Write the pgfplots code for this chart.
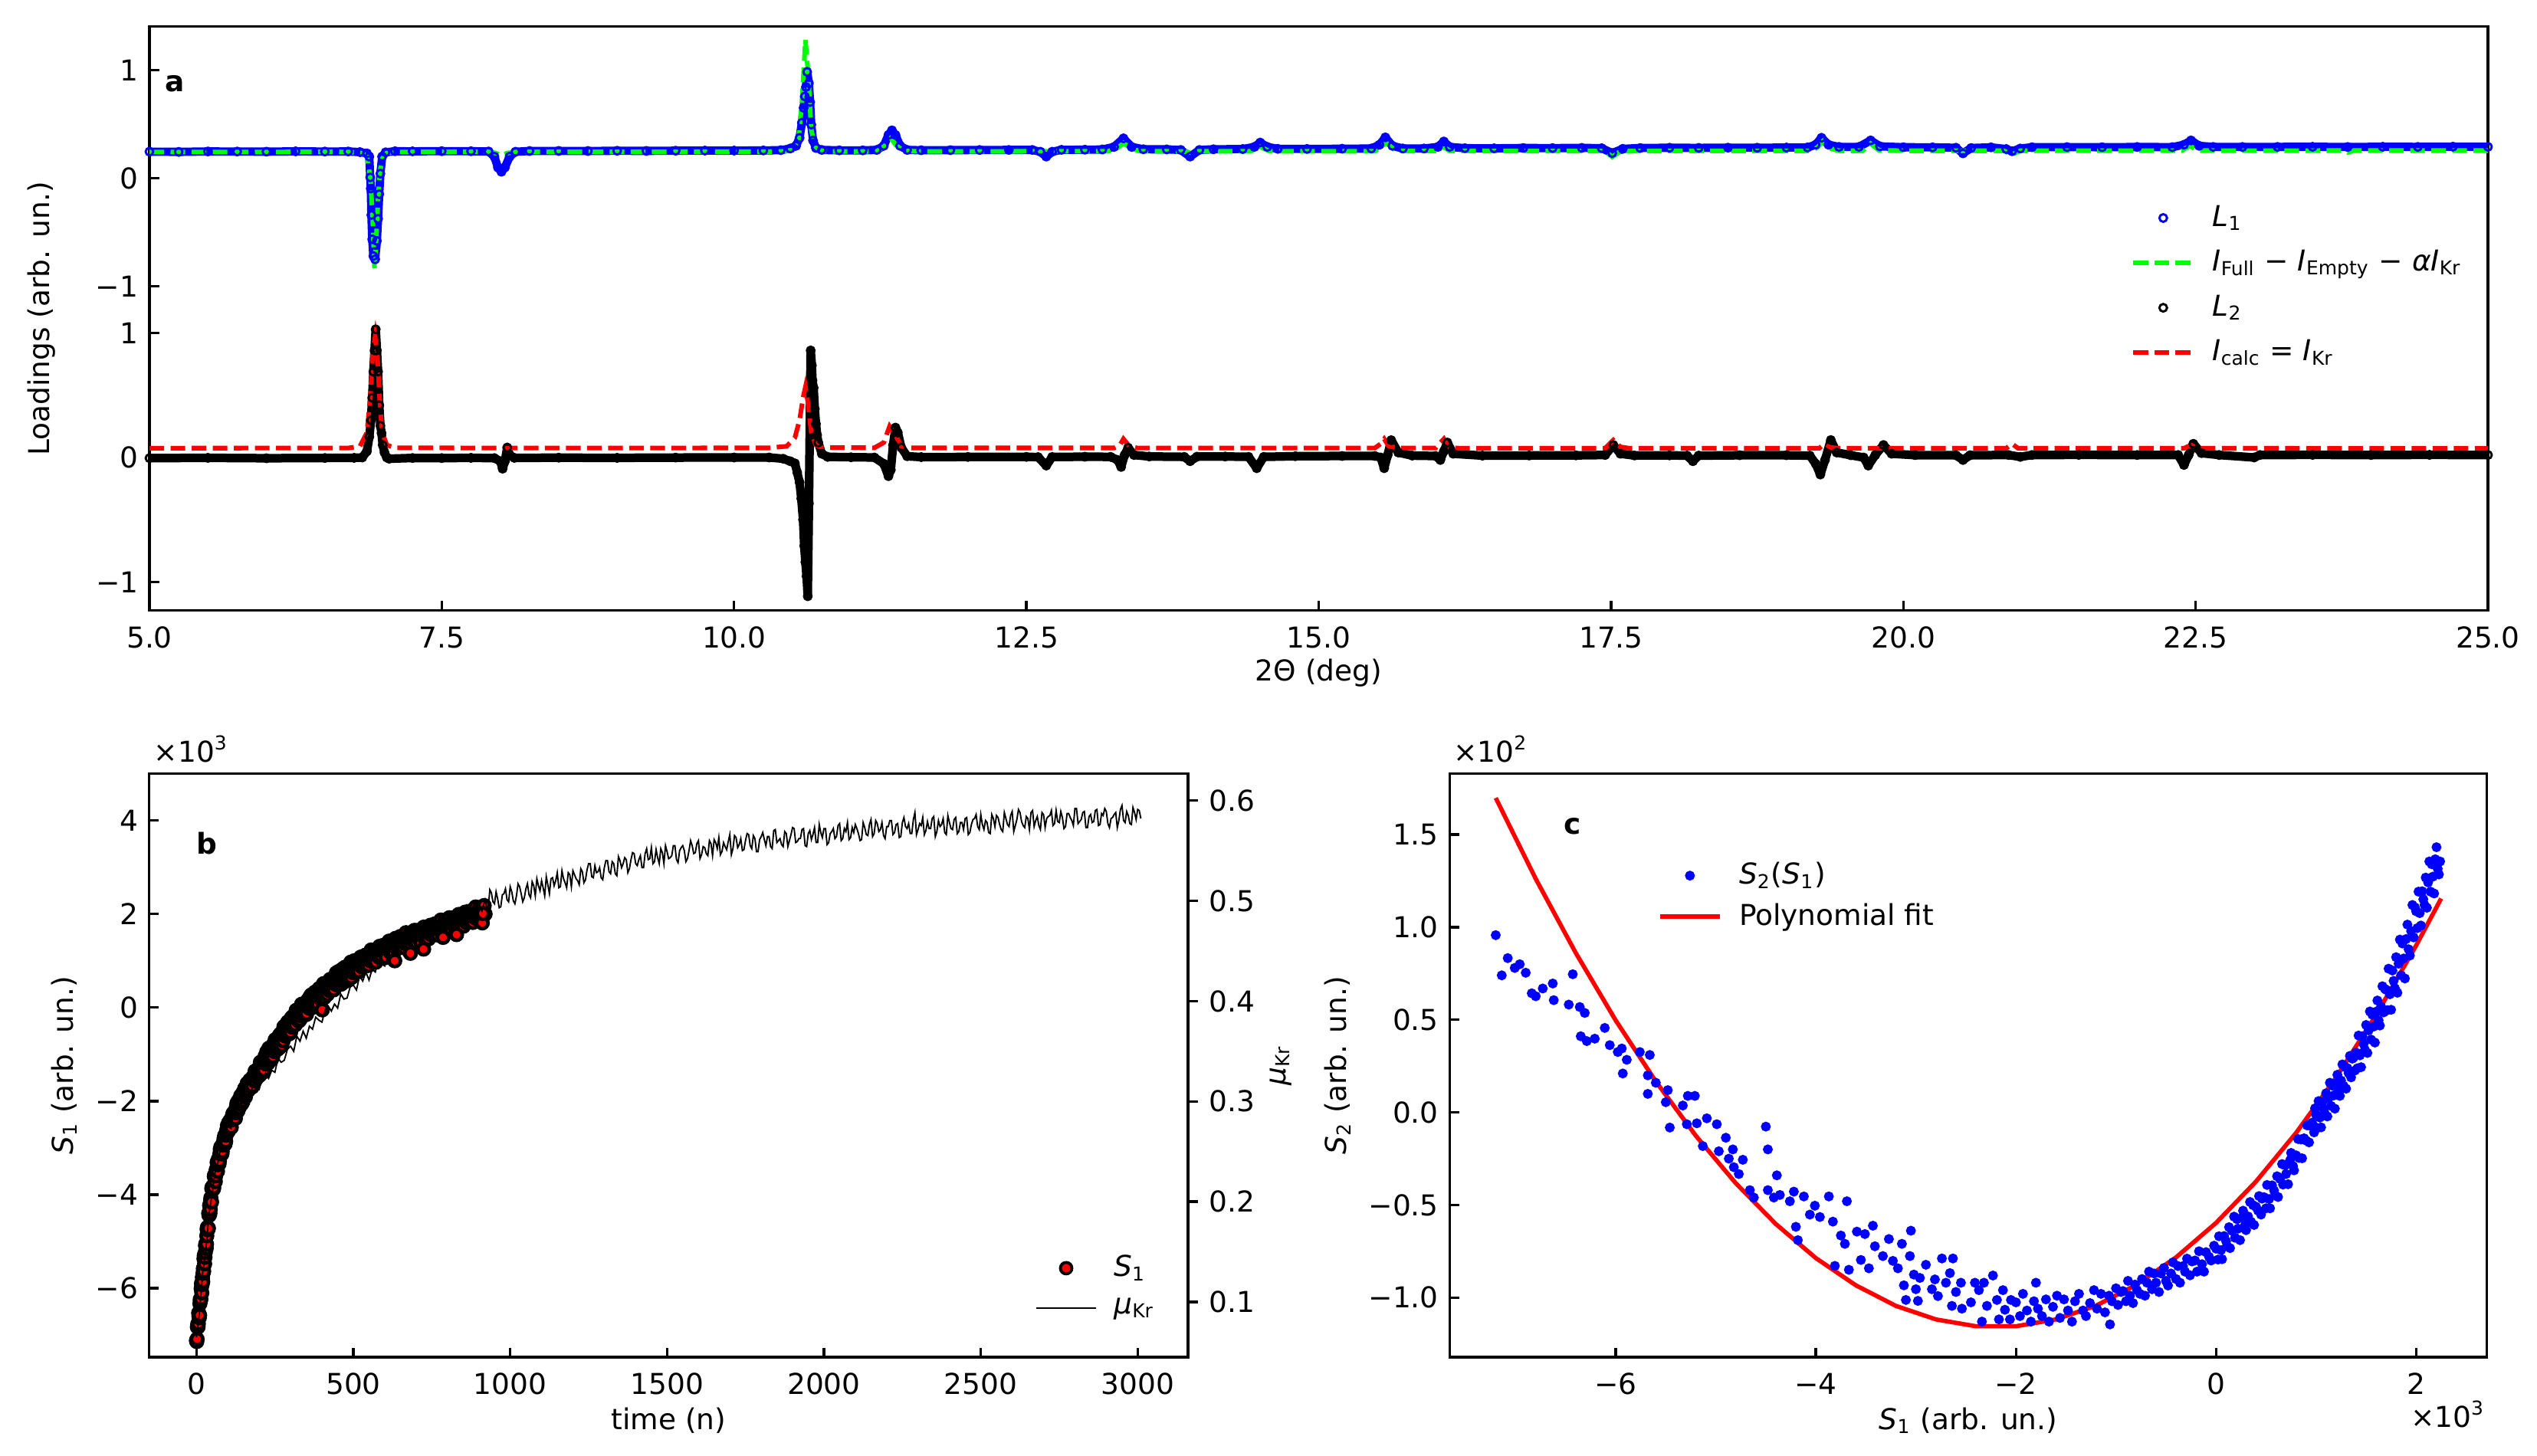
\documentclass[border=0pt]{standalone}
\usepackage{fontspec}
\setmainfont{DejaVu Sans}
\usepackage{pgfplots}
\usepackage{pgfplotstable}
\pgfplotsset{compat=1.18}

\pgfplotstableread{
x y
5.00 0.246
5.25 0.244
5.50 0.248
5.75 0.247
6.00 0.246
6.25 0.249
6.50 0.247
6.70 0.248
6.80 0.242
6.86 0.230
6.88 0.200
6.888 0.008
6.893 -0.096
6.898 -0.340
6.905 -0.565
6.915 -0.720
6.930 -0.750
6.945 -0.580
6.955 -0.375
6.965 -0.148
6.975 0.043
6.990 0.200
7.02 0.240
7.10 0.250
7.25 0.249
7.50 0.251
7.75 0.250
7.90 0.248
7.95 0.200
7.98 0.100
8.01 0.060
8.04 0.100
8.08 0.200
8.13 0.245
8.25 0.252
8.50 0.253
8.75 0.252
9.00 0.254
9.25 0.253
9.50 0.255
9.75 0.256
10.00 0.256
10.25 0.257
10.40 0.260
10.48 0.275
10.53 0.300
10.56 0.374
10.58 0.514
10.595 0.652
10.605 0.757
10.615 0.844
10.625 0.984
10.64 0.879
10.65 0.705
10.66 0.496
10.675 0.350
10.70 0.280
10.75 0.262
10.90 0.258
11.10 0.258
11.22 0.262
11.28 0.300
11.32 0.400
11.35 0.443
11.38 0.400
11.42 0.300
11.48 0.262
11.60 0.259
11.85 0.260
12.10 0.261
12.35 0.262
12.55 0.262
12.62 0.245
12.67 0.200
12.72 0.245
12.80 0.263
13.00 0.264
13.15 0.266
13.25 0.290
13.33 0.369
13.40 0.290
13.50 0.268
13.70 0.267
13.82 0.262
13.90 0.200
13.98 0.262
14.10 0.268
14.35 0.270
14.45 0.290
14.50 0.330
14.56 0.290
14.65 0.272
14.90 0.271
15.20 0.273
15.45 0.275
15.52 0.310
15.57 0.378
15.63 0.300
15.72 0.275
15.90 0.275
16.02 0.290
16.07 0.340
16.12 0.290
16.25 0.278
16.50 0.277
16.75 0.280
17.00 0.279
17.25 0.281
17.42 0.278
17.51 0.233
17.60 0.272
17.75 0.280
18.00 0.282
18.25 0.281
18.50 0.283
18.75 0.282
19.00 0.284
19.18 0.285
19.25 0.310
19.30 0.374
19.36 0.310
19.45 0.290
19.62 0.290
19.72 0.350
19.80 0.295
20.00 0.287
20.25 0.286
20.45 0.282
20.51 0.230
20.58 0.280
20.75 0.286
20.88 0.270
20.93 0.250
21.00 0.275
21.10 0.287
21.40 0.288
21.70 0.287
22.00 0.289
22.30 0.288
22.40 0.310
22.46 0.350
22.53 0.300
22.65 0.290
22.90 0.289
23.20 0.290
23.50 0.291
23.80 0.289
24.10 0.291
24.40 0.290
24.70 0.292
25.00 0.291
}\Lone

\pgfplotstableread{
x y
5.00 0.243
5.50 0.242
6.00 0.243
6.50 0.244
6.70 0.243
6.82 0.233
6.86 0.200
6.89 0.000
6.91 -0.400
6.925 -0.845
6.94 -0.550
6.955 -0.200
6.97 0.050
6.99 0.180
7.03 0.233
7.10 0.243
7.50 0.244
7.90 0.244
7.96 0.233
8.01 0.213
8.06 0.233
8.15 0.245
8.50 0.244
9.00 0.245
9.50 0.245
10.00 0.246
10.40 0.247
10.50 0.260
10.55 0.350
10.58 0.700
10.61 1.280
10.635 0.950
10.66 0.450
10.69 0.300
10.73 0.258
10.80 0.248
11.00 0.247
11.22 0.248
11.29 0.300
11.34 0.370
11.39 0.300
11.45 0.253
11.60 0.248
12.00 0.248
12.50 0.249
13.00 0.249
13.20 0.250
13.28 0.280
13.33 0.326
13.39 0.280
13.47 0.250
13.85 0.248
13.90 0.238
13.95 0.249
14.42 0.250
14.50 0.290
14.58 0.250
15.00 0.250
15.48 0.250
15.53 0.290
15.58 0.326
15.64 0.270
15.72 0.251
16.02 0.253
16.07 0.290
16.12 0.253
16.50 0.252
17.00 0.252
17.45 0.252
17.51 0.197
17.58 0.250
18.00 0.253
18.50 0.253
19.22 0.254
19.27 0.290
19.31 0.340
19.36 0.280
19.45 0.254
19.65 0.254
19.72 0.320
19.79 0.260
20.00 0.254
20.50 0.254
20.86 0.254
20.93 0.220
21.00 0.254
21.50 0.255
22.00 0.255
22.38 0.255
22.45 0.300
22.52 0.256
23.00 0.255
23.75 0.256
23.80 0.238
23.85 0.256
24.50 0.256
25.00 0.256
}\Green

\pgfplotstableread{
x y
5.00 -0.005
5.50 -0.003
6.00 -0.006
6.50 -0.004
6.75 -0.003
6.82 0.000
6.86 0.050
6.88 0.166
6.895 0.300
6.905 0.480
6.915 0.690
6.925 0.860
6.935 1.030
6.945 0.860
6.955 0.690
6.965 0.420
6.975 0.255
6.985 0.195
6.995 0.100
7.01 0.040
7.03 0.000
7.05 -0.010
7.25 -0.004
7.50 -0.005
7.75 -0.003
7.95 -0.005
8.00 -0.030
8.02 -0.090
8.04 -0.030
8.06 0.080
8.08 0.020
8.12 -0.003
8.50 -0.002
9.00 -0.003
9.50 -0.001
10.00 0.000
10.30 0.000
10.42 -0.010
10.48 -0.030
10.52 -0.047
10.54 -0.120
10.56 -0.200
10.575 -0.330
10.59 -0.500
10.60 -0.710
10.61 -0.840
10.62 -0.955
10.63 -1.115
10.64 -0.370
10.655 0.860
10.665 0.740
10.67 0.620
10.68 0.560
10.69 0.390
10.70 0.270
10.71 0.180
10.72 0.120
10.75 0.030
10.80 0.005
11.00 0.002
11.20 0.000
11.28 -0.050
11.32 -0.150
11.34 -0.100
11.36 0.100
11.38 0.240
11.40 0.200
11.43 0.080
11.48 0.010
11.60 0.003
12.00 0.004
12.50 0.005
12.60 0.003
12.67 -0.065
12.72 0.004
13.00 0.006
13.22 0.005
13.28 -0.020
13.31 -0.076
13.34 0.020
13.37 0.078
13.42 0.020
13.55 0.008
13.85 0.005
13.90 -0.030
13.96 0.007
14.20 0.008
14.40 0.005
14.47 -0.086
14.53 0.005
14.80 0.010
15.20 0.012
15.48 0.012
15.53 0.000
15.56 -0.086
15.59 0.020
15.62 0.139
15.68 0.040
15.80 0.015
16.00 0.012
16.04 -0.020
16.07 0.050
16.10 0.120
16.15 0.030
16.40 0.015
16.80 0.016
17.20 0.017
17.45 0.020
17.52 0.100
17.58 0.030
17.70 0.016
18.00 0.017
18.15 0.015
18.20 -0.030
18.25 0.015
18.60 0.018
19.00 0.018
19.20 0.015
19.25 -0.050
19.29 -0.137
19.33 -0.020
19.38 0.140
19.43 0.040
19.55 0.018
19.66 0.000
19.70 -0.065
19.76 0.020
19.83 0.100
19.90 0.030
20.10 0.019
20.45 0.018
20.51 -0.020
20.57 0.018
20.90 0.020
21.00 0.005
21.10 0.020
21.50 0.021
22.00 0.020
22.35 0.020
22.40 -0.060
22.44 0.020
22.48 0.110
22.55 0.035
22.70 0.020
23.00 0.000
23.05 0.020
23.50 0.021
24.00 0.020
24.50 0.021
25.00 0.020
}\Ltwo

\pgfplotstableread{
x y
5.00 0.075
6.70 0.076
6.80 0.090
6.86 0.200
6.89 0.500
6.91 0.850
6.93 0.970
6.95 0.800
6.97 0.450
6.99 0.200
7.03 0.100
7.10 0.078
8.00 0.076
10.30 0.077
10.45 0.090
10.52 0.160
10.56 0.300
10.59 0.480
10.61 0.566
10.63 0.450
10.66 0.200
10.70 0.100
10.75 0.080
11.20 0.078
11.28 0.120
11.33 0.250
11.38 0.180
11.43 0.090
11.50 0.077
13.25 0.077
13.30 0.100
13.33 0.149
13.38 0.090
13.45 0.076
15.48 0.076
15.53 0.110
15.56 0.149
15.60 0.090
15.68 0.076
16.00 0.076
16.04 0.120
16.07 0.149
16.11 0.080
16.20 0.075
17.45 0.075
17.52 0.140
17.58 0.085
17.65 0.075
19.28 0.074
19.33 0.110
19.38 0.080
19.45 0.074
20.88 0.074
20.93 0.110
20.98 0.075
22.40 0.074
22.46 0.100
22.52 0.074
25.00 0.073
}\Red

\pgfplotstableread{
t s
0 -7.12
1 -7.14
2 -7.09
3 -6.83
4 -6.77
5 -6.83
6 -6.76
7 -6.53
8 -6.60
9 -6.63
10 -6.58
11 -6.33
12 -6.24
13 -6.26
14 -6.23
15 -6.01
16 -5.90
17 -6.10
18 -5.92
19 -5.77
20 -5.86
21 -5.68
22 -5.58
23 -5.64
24 -5.37
25 -5.30
26 -5.48
27 -5.34
28 -5.24
29 -5.09
30 -5.05
31 -5.15
32 -5.06
33 -4.88
34 -4.74
35 -4.70
36 -4.75
37 -4.72
38 -4.72
39 -4.40
40 -4.44
41 -4.44
42 -4.23
43 -4.40
44 -4.31
45 -4.14
46 -4.07
47 -4.14
48 -4.16
49 -3.87
50 -3.84
52 -3.83
54 -3.88
55 -3.85
57 -3.61
58 -3.58
60 -3.72
61 -3.60
63 -3.47
64 -3.46
66 -3.31
67 -3.50
69 -3.36
70 -3.24
72 -3.34
73 -3.28
75 -3.12
76 -3.03
78 -2.98
79 -3.10
81 -3.13
82 -3.08
84 -2.94
85 -2.90
87 -2.94
88 -2.80
90 -2.74
91 -2.92
93 -2.86
94 -2.73
96 -2.64
97 -2.62
99 -2.52
100 -2.66
102 -2.63
103 -2.46
105 -2.54
106 -2.55
108 -2.41
109 -2.57
111 -2.56
112 -2.40
114 -2.36
115 -2.30
117 -2.26
118 -2.38
120 -2.38
121 -2.25
123 -2.25
124 -2.37
126 -2.25
127 -2.13
129 -2.05
130 -2.16
132 -2.21
133 -2.00
135 -2.02
136 -2.14
138 -2.05
139 -1.99
141 -1.89
142 -2.02
144 -2.06
145 -1.86
147 -1.88
148 -2.01
150 -1.80
151 -1.86
153 -1.90
154 -1.73
156 -1.91
157 -1.86
159 -1.74
160 -1.78
162 -1.62
163 -1.67
165 -1.77
166 -1.76
168 -1.67
169 -1.57
171 -1.55
172 -1.66
174 -1.64
175 -1.58
177 -1.70
178 -1.68
180 -1.49
181 -1.48
183 -1.50
184 -1.56
186 -1.57
187 -1.36
189 -1.36
190 -1.47
192 -1.48
193 -1.50
195 -1.33
196 -1.35
198 -1.38
199 -1.29
200 -1.29
201 -1.45
203 -1.42
204 -1.17
206 -1.17
207 -1.34
209 -1.30
210 -1.16
212 -1.21
213 -1.38
215 -1.34
216 -1.16
218 -1.09
219 -1.04
221 -1.20
222 -1.21
224 -0.95
225 -1.05
227 -1.10
228 -1.19
230 -1.15
231 -0.87
233 -0.96
234 -1.02
236 -0.88
237 -1.06
239 -1.11
240 -0.87
242 -0.92
243 -1.05
245 -0.82
246 -0.78
248 -0.94
249 -0.89
251 -0.69
252 -0.69
254 -0.85
255 -0.89
257 -0.90
258 -0.75
260 -0.71
261 -0.65
263 -0.61
264 -0.86
266 -0.76
267 -0.57
269 -0.60
270 -0.70
272 -0.81
273 -0.56
275 -0.51
276 -0.71
278 -0.59
279 -0.41
281 -0.40
282 -0.60
284 -0.61
285 -0.48
287 -0.44
288 -0.58
290 -0.52
291 -0.31
293 -0.33
294 -0.48
296 -0.56
297 -0.31
299 -0.36
300 -0.53
302 -0.23
303 -0.32
305 -0.42
306 -0.20
308 -0.33
309 -0.38
311 -0.22
312 -0.22
314 -0.35
315 -0.37
317 -0.11
318 -0.06
320 -0.24
321 -0.21
323 -0.16
324 -0.26
326 -0.29
327 -0.07
329 -0.05
330 -0.26
332 -0.17
333 0.00
335 0.07
336 -0.12
338 -0.09
339 0.07
341 -0.16
342 -0.14
344 0.02
345 -0.01
347 0.09
348 0.08
350 -0.15
351 -0.13
353 0.03
354 0.15
356 0.12
357 0.01
359 -0.01
360 0.14
362 0.23
363 -0.02
365 0.06
366 0.27
368 0.00
369 0.07
371 0.18
372 0.18
374 0.28
375 0.06
377 0.11
378 0.33
380 0.26
381 0.15
383 0.04
384 0.32
386 0.33
387 0.08
389 0.24
390 0.29
392 0.41
393 0.40
395 0.19
396 0.22
398 0.35
399 0.36
401 0.27
402 0.20
404 0.44
405 0.51
407 0.21
408 0.35
410 0.40
411 0.29
413 0.52
414 0.47
416 0.32
417 0.28
419 0.40
420 0.53
422 0.50
423 0.41
425 0.36
426 0.60
428 0.60
429 0.38
431 0.45
432 0.51
434 0.53
435 0.60
437 0.39
438 0.38
440 0.62
441 0.66
443 0.50
444 0.52
446 0.74
447 0.64
449 0.58
450 0.48
452 0.50
453 0.77
455 0.68
456 0.56
458 0.74
459 0.67
461 0.50
462 0.55
464 0.67
465 0.82
467 0.76
468 0.63
470 0.62
471 0.80
473 0.86
474 0.56
476 0.68
477 0.77
479 0.62
480 0.87
482 0.79
483 0.69
485 0.89
486 0.84
488 0.73
489 0.67
491 0.87
492 0.97
494 0.64
495 0.81
497 0.92
498 0.75
500 0.83
503 1.00
506 0.77
509 0.92
512 0.84
515 1.01
518 0.77
521 0.95
524 1.08
527 0.87
530 0.94
533 1.04
536 0.89
539 1.12
542 0.98
545 1.05
548 0.90
551 1.13
554 1.00
557 1.23
560 1.06
563 0.98
566 1.16
569 1.22
572 0.97
575 1.14
578 1.22
581 1.08
584 1.31
587 1.13
590 1.07
593 1.24
596 1.33
599 1.16
602 1.30
605 1.07
608 1.35
611 1.25
614 1.42
617 1.19
620 1.34
623 1.25
626 1.42
629 1.18
632 1.36
635 1.48
638 1.27
641 1.34
644 1.44
647 1.29
650 1.52
653 1.37
656 1.43
659 1.28
662 1.51
665 1.37
668 1.60
671 1.43
674 1.35
677 1.51
680 1.57
683 1.32
686 1.49
689 1.56
692 1.42
695 1.65
698 1.47
701 1.39
704 1.56
707 1.65
710 1.47
713 1.61
716 1.38
719 1.66
722 1.55
725 1.72
728 1.49
731 1.64
734 1.54
737 1.71
740 1.47
743 1.64
746 1.76
749 1.55
752 1.62
755 1.71
758 1.56
761 1.79
764 1.64
767 1.70
770 1.55
773 1.78
776 1.65
779 1.87
782 1.70
785 1.62
788 1.79
791 1.84
794 1.59
797 1.76
800 1.84
803 1.69
806 1.92
809 1.74
812 1.67
815 1.83
818 1.92
821 1.75
824 1.88
827 1.65
830 1.93
833 1.83
836 1.99
839 1.76
842 1.91
845 1.82
848 1.98
851 1.74
854 1.92
857 2.04
860 1.82
863 1.89
866 1.99
869 1.83
872 2.06
875 1.91
878 1.98
881 1.82
884 2.05
887 1.92
890 2.15
893 1.97
896 1.89
899 2.06
902 2.11
905 1.86
908 2.03
911 2.10
914 1.96
917 2.18
920 2.00
401 -0.05
632 1.00
682 1.16
724 1.25
786 1.50
829 1.56
911 1.81
913 2.01
}\Sone

\pgfplotstableread{
t m
0 0.065
10 0.091
20 0.129
30 0.152
40 0.187
50 0.208
60 0.230
70 0.241
80 0.259
90 0.266
100 0.275
110 0.273
120 0.290
130 0.288
140 0.299
150 0.294
160 0.307
170 0.304
180 0.316
190 0.314
200 0.312
210 0.324
220 0.328
230 0.323
240 0.331
250 0.329
260 0.343
270 0.339
280 0.341
290 0.352
300 0.355
310 0.350
320 0.365
330 0.360
340 0.370
350 0.363
360 0.375
370 0.372
380 0.384
390 0.381
400 0.379
410 0.391
420 0.395
430 0.390
440 0.397
450 0.393
460 0.407
470 0.402
480 0.403
490 0.414
500 0.416
510 0.411
520 0.425
530 0.420
540 0.429
550 0.421
560 0.432
570 0.429
580 0.441
590 0.437
600 0.435
610 0.446
620 0.450
630 0.445
640 0.451
650 0.447
660 0.460
670 0.454
680 0.454
690 0.464
700 0.465
710 0.459
720 0.472
730 0.466
740 0.474
750 0.466
760 0.475
770 0.471
780 0.482
790 0.477
800 0.474
810 0.484
820 0.488
830 0.481
840 0.487
850 0.482
860 0.495
870 0.488
880 0.488
890 0.497
900 0.497
910 0.490
920 0.501
925 0.494
930 0.492
935 0.511
940 0.508
945 0.499
950 0.497
955 0.509
960 0.502
965 0.493
970 0.494
975 0.506
980 0.507
985 0.512
990 0.501
995 0.499
1000 0.514
1005 0.509
1010 0.500
1015 0.497
1020 0.505
1025 0.517
1030 0.514
1035 0.507
1040 0.499
1045 0.503
1050 0.512
1055 0.517
1060 0.506
1065 0.503
1070 0.519
1075 0.515
1080 0.505
1085 0.522
1090 0.515
1095 0.510
1100 0.520
1105 0.513
1110 0.505
1115 0.524
1120 0.516
1125 0.507
1130 0.522
1135 0.523
1140 0.515
1145 0.520
1150 0.528
1155 0.513
1160 0.514
1165 0.530
1170 0.522
1175 0.518
1180 0.513
1185 0.528
1190 0.526
1195 0.514
1200 0.530
1205 0.526
1210 0.522
1215 0.520
1220 0.516
1225 0.532
1230 0.529
1235 0.518
1240 0.521
1245 0.531
1250 0.537
1255 0.537
1260 0.524
1265 0.523
1270 0.535
1275 0.528
1280 0.529
1285 0.533
1290 0.523
1295 0.521
1300 0.533
1305 0.540
1310 0.540
1315 0.529
1320 0.527
1325 0.539
1330 0.537
1335 0.527
1340 0.525
1345 0.544
1350 0.540
1355 0.533
1360 0.537
1365 0.543
1370 0.541
1375 0.528
1380 0.532
1385 0.541
1390 0.548
1395 0.547
1400 0.537
1405 0.535
1410 0.541
1415 0.545
1420 0.533
1425 0.533
1430 0.547
1435 0.552
1440 0.541
1445 0.542
1450 0.553
1455 0.537
1460 0.539
1465 0.551
1470 0.543
1475 0.537
1480 0.552
1485 0.548
1490 0.537
1495 0.555
1500 0.549
1505 0.542
1510 0.543
1515 0.545
1520 0.555
1525 0.555
1530 0.541
1535 0.538
1540 0.550
1545 0.553
1550 0.555
1555 0.550
1560 0.539
1565 0.542
1570 0.550
1575 0.560
1580 0.555
1585 0.547
1590 0.548
1595 0.557
1600 0.560
1605 0.542
1610 0.546
1615 0.554
1620 0.553
1625 0.547
1630 0.545
1635 0.560
1640 0.557
1645 0.545
1650 0.561
1655 0.558
1660 0.552
1665 0.563
1670 0.546
1675 0.549
1680 0.558
1685 0.554
1690 0.551
1695 0.559
1700 0.566
1705 0.546
1710 0.552
1715 0.565
1720 0.563
1725 0.553
1730 0.556
1735 0.562
1740 0.550
1745 0.551
1750 0.560
1755 0.567
1760 0.566
1765 0.555
1770 0.552
1775 0.565
1780 0.562
1785 0.549
1790 0.549
1795 0.561
1800 0.564
1805 0.568
1810 0.561
1815 0.555
1820 0.564
1825 0.564
1830 0.554
1835 0.552
1840 0.570
1845 0.571
1850 0.558
1855 0.560
1860 0.562
1865 0.556
1870 0.554
1875 0.569
1880 0.567
1885 0.554
1890 0.560
1895 0.566
1900 0.573
1905 0.572
1910 0.558
1915 0.559
1920 0.562
1925 0.562
1930 0.571
1935 0.572
1940 0.555
1945 0.554
1950 0.567
1955 0.570
1960 0.561
1965 0.566
1970 0.573
1975 0.558
1980 0.558
1985 0.576
1990 0.568
1995 0.563
2000 0.572
2005 0.572
2010 0.556
2015 0.558
2020 0.567
2025 0.569
2030 0.572
2035 0.562
2040 0.564
2045 0.575
2050 0.577
2055 0.560
2060 0.562
2065 0.572
2070 0.569
2075 0.578
2080 0.561
2085 0.563
2090 0.573
2095 0.568
2100 0.576
2105 0.572
2110 0.567
2115 0.560
2120 0.561
2125 0.578
2130 0.573
2135 0.566
2140 0.565
2145 0.576
2150 0.581
2155 0.564
2160 0.567
2165 0.580
2170 0.577
2175 0.569
2180 0.571
2185 0.578
2190 0.565
2195 0.562
2200 0.574
2205 0.574
2210 0.580
2215 0.580
2220 0.566
2225 0.568
2230 0.576
2235 0.577
2240 0.563
2245 0.564
2250 0.578
2255 0.583
2260 0.574
2265 0.572
2270 0.577
2275 0.567
2280 0.567
2285 0.581
2290 0.588
2295 0.566
2300 0.571
2305 0.577
2310 0.575
2315 0.583
2320 0.566
2325 0.570
2330 0.579
2335 0.572
2340 0.572
2345 0.582
2350 0.584
2355 0.564
2360 0.569
2365 0.580
2370 0.574
2375 0.576
2380 0.582
2385 0.568
2390 0.566
2395 0.585
2400 0.578
2405 0.572
2410 0.571
2415 0.581
2420 0.583
2425 0.567
2430 0.569
2435 0.578
2440 0.578
2445 0.571
2450 0.582
2455 0.583
2460 0.566
2465 0.568
2470 0.576
2475 0.581
2480 0.582
2485 0.586
2490 0.574
2495 0.571
2500 0.586
2505 0.576
2510 0.571
2515 0.580
2520 0.578
2525 0.568
2530 0.567
2535 0.586
2540 0.582
2545 0.574
2550 0.585
2555 0.583
2560 0.576
2565 0.571
2570 0.569
2575 0.588
2580 0.582
2585 0.576
2590 0.574
2595 0.585
2600 0.589
2605 0.569
2610 0.575
2615 0.581
2620 0.591
2625 0.588
2630 0.579
2635 0.575
2640 0.573
2645 0.584
2650 0.582
2655 0.571
2660 0.588
2665 0.590
2670 0.574
2675 0.580
2680 0.584
2685 0.575
2690 0.571
2695 0.588
2700 0.586
2705 0.573
2710 0.582
2715 0.584
2720 0.585
2725 0.590
2730 0.575
2735 0.577
2740 0.590
2745 0.579
2750 0.578
2755 0.589
2760 0.583
2765 0.572
2770 0.574
2775 0.587
2780 0.587
2785 0.583
2790 0.580
2795 0.575
2800 0.592
2805 0.592
2810 0.577
2815 0.579
2820 0.581
2825 0.588
2830 0.589
2835 0.573
2840 0.573
2845 0.584
2850 0.586
2855 0.578
2860 0.579
2865 0.590
2870 0.591
2875 0.575
2880 0.576
2885 0.587
2890 0.585
2895 0.592
2900 0.589
2905 0.577
2910 0.573
2915 0.582
2920 0.583
2925 0.586
2930 0.588
2935 0.573
2940 0.580
2945 0.591
2950 0.595
2955 0.580
2960 0.578
2965 0.589
2970 0.585
2975 0.577
2980 0.576
2985 0.593
2990 0.588
2995 0.581
3000 0.591
3005 0.590
3010 0.582
}\Mu

\pgfplotstableread{
a b
-7.20 0.957
-7.14 0.740
-7.08 0.833
-7.01 0.780
-6.96 0.800
-6.90 0.754
-6.84 0.643
-6.80 0.627
-6.73 0.669
-6.63 0.696
-6.62 0.606
-6.47 0.582
-6.43 0.746
-6.36 0.569
-6.35 0.411
-6.31 0.537
-6.29 0.385
-6.21 0.398
-6.11 0.456
-6.06 0.363
-5.98 0.326
-5.94 0.345
-5.93 0.210
-5.89 0.284
-5.76 0.326
-5.66 0.310
-5.68 0.200
-5.68 0.100
-5.60 0.160
-5.50 0.055
-5.48 0.120
-5.46 -0.082
-5.33 0.037
-5.28 0.089
-5.21 0.089
-5.29 -0.064
-5.19 -0.059
-5.13 -0.182
-5.09 -0.032
-4.99 -0.064
-4.97 -0.210
-4.90 -0.137
-4.87 -0.250
-4.83 -0.200
-4.82 -0.296
-4.77 -0.333
-4.73 -0.256
-4.66 -0.420
-4.62 -0.460
-4.50 -0.077
-4.48 -0.200
-4.48 -0.420
-4.42 -0.460
-4.39 -0.340
-4.36 -0.446
-4.26 -0.480
-4.22 -0.428
-4.20 -0.618
-4.18 -0.690
-4.12 -0.454
-4.06 -0.552
-4.01 -0.504
-3.96 -0.565
-3.87 -0.454
-3.83 -0.590
-3.81 -0.829
-3.75 -0.665
-3.71 -0.710
-3.69 -0.480
-3.67 -0.850
-3.59 -0.644
-3.55 -0.797
-3.51 -0.657
-3.47 -0.842
-3.43 -0.612
-3.41 -0.723
-3.33 -0.776
-3.27 -0.684
-3.23 -0.802
-3.18 -0.842
-3.14 -0.710
-3.12 -0.934
-3.10 -1.013
-3.06 -0.776
-3.05 -0.639
-3.02 -0.876
-3.00 -0.955
-2.98 -1.018
-2.96 -0.894
-2.90 -0.823
-2.84 -0.955
-2.81 -0.902
-2.78 -0.992
-2.74 -0.789
-2.70 -0.920
-2.66 -0.868
-2.64 -1.045
-2.63 -0.789
-2.60 -0.970
-2.55 -0.920
-2.54 -1.060
-2.45 -1.026
-2.41 -0.920
-2.37 -0.960
-2.34 -1.130
-2.32 -0.920
-2.29 -1.045
-2.23 -0.881
-2.19 -1.013
-2.17 -1.118
-2.13 -0.960
-2.11 -1.066
-2.06 -1.118
-2.05 -1.013
-2.00 -1.026
-1.96 -1.100
-1.93 -0.980
-1.89 -1.070
-1.85 -1.130
-1.82 -1.020
-1.80 -0.920
-1.78 -1.060
-1.74 -1.100
-1.70 -1.010
-1.67 -1.130
-1.63 -1.050
-1.59 -0.990
-1.56 -1.110
-1.52 -1.010
-1.48 -1.070
-1.44 -1.130
-1.41 -1.020
-1.37 -0.980
-1.33 -1.070
-1.30 -1.100
-1.26 -1.030
-1.22 -0.960
-1.19 -1.060
-1.15 -0.980
-1.11 -1.080
-1.07 -0.990
-1.06 -1.145
-1.04 -1.020
-1.00 -0.950
-0.98 -1.040
-0.95 -0.970
-0.93 -0.965
-0.90 -1.020
-0.88 -0.910
-0.86 -0.990
-0.83 -1.030
-0.81 -0.930
-0.79 -0.960
-0.76 -0.980
-0.74 -0.900
-0.71 -0.990
-0.69 -0.920
-0.67 -0.860
-0.64 -0.955
-0.62 -0.870
-0.60 -0.920
-0.57 -0.970
-0.55 -0.870
-0.52 -0.840
-0.50 -0.910
-0.48 -0.935
-0.45 -0.870
-0.43 -0.810
-0.40 -0.900
-0.38 -0.830
-0.36 -0.920
-0.33 -0.830
-0.31 -0.860
-0.29 -0.790
-0.26 -0.880
-0.24 -0.805
-0.21 -0.800
-0.19 -0.860
-0.17 -0.750
-0.14 -0.820
-0.12 -0.860
-0.10 -0.755
-0.07 -0.780
-0.05 -0.800
-0.02 -0.720
0.00 -0.736
0.02 -0.795
0.03 -0.669
0.05 -0.744
0.06 -0.793
0.08 -0.668
0.10 -0.695
0.11 -0.721
0.13 -0.620
0.14 -0.733
0.16 -0.640
0.18 -0.563
0.19 -0.677
0.21 -0.577
0.22 -0.628
0.24 -0.690
0.26 -0.568
0.27 -0.531
0.29 -0.609
0.30 -0.636
0.32 -0.562
0.34 -0.484
0.35 -0.591
0.37 -0.501
0.38 -0.608
0.40 -0.510
0.42 -0.530
0.43 -0.452
0.45 -0.552
0.46 -0.466
0.48 -0.458
0.50 -0.518
0.51 -0.392
0.53 -0.468
0.54 -0.518
0.56 -0.394
0.58 -0.422
0.59 -0.448
0.61 -0.345
0.62 -0.457
0.64 -0.360
0.66 -0.279
0.67 -0.390
0.69 -0.286
0.70 -0.333
0.72 -0.388
0.74 -0.259
0.75 -0.219
0.77 -0.290
0.78 -0.313
0.80 -0.232
0.82 -0.144
0.83 -0.246
0.85 -0.146
0.86 -0.248
0.88 -0.140
0.90 -0.152
0.91 -0.070
0.93 -0.162
0.94 -0.072
0.96 -0.056
0.98 -0.108
0.99 0.022
1.000 -0.013
1.013 -0.084
1.025 0.061
1.038 -0.028
1.050 -0.081
1.063 0.055
1.075 0.020
1.088 -0.006
1.100 0.103
1.113 -0.022
1.125 0.078
1.138 0.160
1.150 0.035
1.163 0.144
1.175 0.091
1.188 0.020
1.200 0.156
1.213 0.203
1.225 0.114
1.238 0.089
1.250 0.172
1.263 0.259
1.275 0.143
1.288 0.245
1.300 0.128
1.313 0.239
1.325 0.212
1.338 0.305
1.350 0.189
1.363 0.290
1.375 0.296
1.388 0.226
1.400 0.323
1.413 0.238
1.425 0.415
1.438 0.308
1.450 0.244
1.463 0.411
1.475 0.369
1.488 0.338
1.500 0.472
1.513 0.321
1.525 0.443
1.538 0.545
1.550 0.393
1.563 0.527
1.575 0.463
1.588 0.377
1.600 0.544
1.613 0.604
1.625 0.497
1.638 0.469
1.650 0.571
1.663 0.681
1.675 0.540
1.688 0.667
1.700 0.662
1.713 0.552
1.725 0.776
1.738 0.638
1.750 0.554
1.763 0.766
1.775 0.710
1.788 0.670
1.800 0.838
1.813 0.646
1.825 0.803
1.838 0.933
1.850 0.740
1.863 0.912
1.875 0.831
1.888 0.723
1.900 0.936
1.913 1.014
1.925 0.881
1.938 0.847
1.950 0.979
1.963 1.120
1.975 0.945
1.988 1.107
2.000 1.086
2.012 0.995
2.024 1.192
2.036 1.076
2.048 1.009
2.060 1.194
2.072 1.151
2.084 1.120
2.096 1.268
2.108 1.105
2.120 1.242
2.132 1.355
2.144 1.192
2.156 1.340
2.168 1.273
2.180 1.182
2.192 1.367
2.204 1.432
2.216 1.316
2.228 1.285
2.24 1.355
}\Scat

\pgfplotstableread{
a b
-7.20 1.698
-6.80 1.261
-6.40 0.861
-6.00 0.496
-5.60 0.167
-5.20 -0.126
-4.80 -0.383
-4.40 -0.603
-4.00 -0.787
-3.60 -0.934
-3.20 -1.045
-2.80 -1.118
-2.40 -1.155
-2.00 -1.155
-1.60 -1.118
-1.20 -1.044
-0.80 -0.932
-0.40 -0.783
0.00 -0.597
0.40 -0.373
0.80 -0.111
1.20 0.188
1.60 0.526
2.00 0.901
2.25 1.155
}\Fit

\pgfplotsset{
  base/.style={
    scale only axis,
    tick align=inside,
    major tick length=3pt,
    tick style={black, line width=0.8pt},
    axis line style={black, line width=0.8pt},
    xticklabel style={yshift=-1.5pt},
    legend cell align=left,
    legend image code/.code={%
      \draw[mark repeat=2,mark phase=2,##1] plot coordinates {(0pt,0pt) (9.35pt,0pt) (18.7pt,0pt)};},
  },
}

\begin{document}
\begin{tikzpicture}[font=\fontsize{9}{10.8}\selectfont]
\path[use as bounding box] (0pt,0pt) rectangle (794.4pt,-455.76pt);

% ---------------- panel a, upper series ----------------
\begin{axis}[base,
  at={(46.8pt,-8.26pt)}, anchor=north west,
  width=732.24pt, height=182.95pt,
  xmin=5, xmax=25, ymin=-4.0, ymax=1.405,
  xtick={5,7.5,10,12.5,15,17.5,20,22.5,25},
  xticklabels={5.0,7.5,10.0,12.5,15.0,17.5,20.0,22.5,25.0},
  ytick={-1,0,1}, yticklabels={−1,0,1},
  xtick pos=left, ytick pos=left,
  xlabel={2Θ (deg)},
  xlabel style={at={(axis description cs:0.5,-0.1067)}, anchor=center},
  ylabel={Loadings (arb. un.)},
  ylabel style={at={(axis description cs:-0.0462,0.5)}, anchor=center},
  legend style={draw=none, fill=none, at={(0.843,0.717)}, anchor=north west, row sep=2pt, column sep=3.4pt},
]
\addlegendimage{only marks, mark=o, blue, mark size=1.2pt, line width=0.7pt}
\addplot[blue, line width=2.6pt, line join=round, mark=o, mark size=1.2pt, mark options={line width=0.7pt}, forget plot] table {\Lone};
\addplot[green, line width=1.45pt, dash pattern=on 4.6pt off 2pt] table {\Green};
\addlegendimage{only marks, mark=o, black, mark size=1.2pt, line width=0.7pt}
\addlegendimage{red, line width=1.45pt, dash pattern=on 4.6pt off 2pt}
\legend{\textit{L}\textsubscript{1}, \textit{I}\textsubscript{Full} − \textit{I}\textsubscript{Empty} − \textit{αI}\textsubscript{Kr}, \textit{L}\textsubscript{2}, \textit{I}\textsubscript{calc} = \textit{I}\textsubscript{Kr}}
\end{axis}

% ---------------- panel a, lower series ----------------
\begin{axis}[base,
  at={(46.8pt,-8.26pt)}, anchor=north west,
  width=732.24pt, height=182.95pt,
  xmin=5, xmax=25, ymin=-1.23, ymax=3.464,
  hide x axis, axis y line*=left, y axis line style={draw=none},
  ytick={-1,0,1}, yticklabels={−1,0,1},
]
\addplot[black, line width=2.7pt, line join=round, mark=o, mark size=1.2pt, mark options={line width=0.7pt}] table {\Ltwo};
\addplot[red, line width=1.45pt, dash pattern=on 4.6pt off 2pt] table {\Red};
\end{axis}

% ---------------- panel b, left axis (S1 markers) ----------------
\begin{axis}[base,
  at={(46.73pt,-242.3pt)}, anchor=north west,
  width=325.27pt, height=182.74pt,
  xmin=-150.5, xmax=3160.5, ymin=-7.475, ymax=5.0,
  xtick={0,500,1000,1500,2000,2500,3000},
  xticklabels={0,500,1000,1500,2000,2500,3000},
  ytick={-6,-4,-2,0,2,4}, yticklabels={−6,−4,−2,0,2,4},
  xtick pos=left, ytick pos=left,
  xlabel={time (n)},
  xlabel style={at={(axis description cs:0.5,-0.1086)}, anchor=center},
  ylabel={\textit{S}\textsubscript{1} (arb. un.)},
  ylabel style={at={(axis description cs:-0.0817,0.5)}, anchor=center},
]
\addplot[only marks, mark=*, mark size=1.8pt, mark options={fill=red, draw=black, line width=1.15pt}] table {\Sone};
\end{axis}

% ---------------- panel b, right axis (mu line, drawn on top) ----------------
\begin{axis}[base,
  at={(46.73pt,-242.3pt)}, anchor=north west,
  width=325.27pt, height=182.74pt,
  xmin=-150.5, xmax=3160.5, ymin=0.045, ymax=0.6267,
  hide x axis, axis y line*=right, y axis line style={draw=none},
  tick align=outside,
  ytick={0.1,0.2,0.3,0.4,0.5,0.6}, yticklabels={0.1,0.2,0.3,0.4,0.5,0.6},
  ylabel={\textit{μ}\textsubscript{Kr}},
  ylabel style={at={(axis description cs:1.0893,0.5)}, anchor=center},
  legend style={draw=none, fill=none, at={(0.8434,0.043)}, anchor=south west, row sep=1.3pt, column sep=3.4pt},
]
\addlegendimage{only marks, mark=*, mark size=1.8pt, mark options={fill=red, draw=black, line width=0.9pt}}
\addplot[black, line width=0.45pt] table {\Mu};
\legend{\textit{S}\textsubscript{1}, \textit{μ}\textsubscript{Kr}}
\end{axis}

% ---------------- panel c ----------------
\begin{axis}[base,
  at={(453.94pt,-242.3pt)}, anchor=north west,
  width=324.72pt, height=182.74pt,
  xmin=-7.66, xmax=2.706, ymin=-1.322, ymax=1.829,
  xtick={-6,-4,-2,0,2}, xticklabels={−6,−4,−2,0,2},
  ytick={-1,-0.5,0,0.5,1,1.5}, yticklabels={−1.0,−0.5,0.0,0.5,1.0,1.5},
  xtick pos=left, ytick pos=left,
  xlabel={\textit{S}\textsubscript{1} (arb. un.)},
  xlabel style={at={(axis description cs:0.5,-0.1086)}, anchor=center},
  ylabel={\textit{S}\textsubscript{2} (arb. un.)},
  ylabel style={at={(axis description cs:-0.1082,0.5)}, anchor=center},
  legend style={draw=none, fill=none, at={(0.1909,0.871)}, anchor=north west, row sep=0.5pt, column sep=3.4pt},
]
\addplot[only marks, mark=*, mark size=1.35pt, blue] table {\Scat};
\addplot[red, line width=1.35pt] table {\Fit};
\legend{\textit{S}\textsubscript{2}(\textit{S}\textsubscript{1}), Polynomial fit}
\end{axis}

% ---------------- annotations ----------------
\node[anchor=center, inner sep=0pt] at (54.72pt,-26.16pt) {\textbf{a}};
\node[anchor=center, inner sep=0pt] at (64.9pt,-264.17pt) {\textbf{b}};
\node[anchor=center, inner sep=0pt] at (492.48pt,-258.8pt) {\textbf{c}};
\node[anchor=base west, inner sep=0pt] at (48pt,-238.6pt) {×10\textsuperscript{3}};
\node[anchor=base west, inner sep=0pt] at (454.9pt,-238.6pt) {×10\textsuperscript{2}};
\node[anchor=base east, inner sep=0pt] at (778.3pt,-446.9pt) {×10\textsuperscript{3}};
\end{tikzpicture}
\end{document}
